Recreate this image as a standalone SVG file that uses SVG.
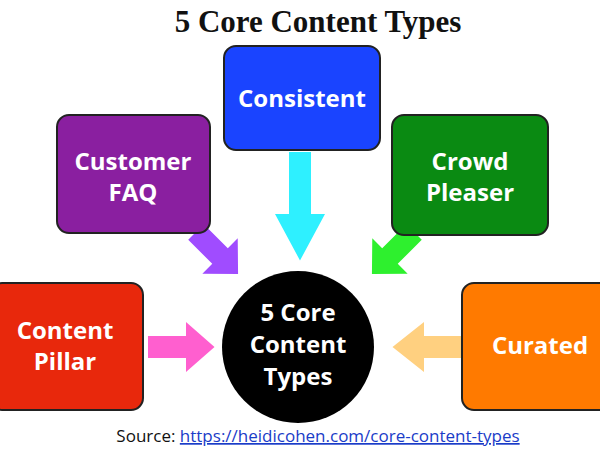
<svg xmlns="http://www.w3.org/2000/svg" width="600" height="450" viewBox="0 0 600 450">
<style>
.box{stroke:#222;stroke-width:2}
.lbl{font-family:"Open Sans","DejaVu Sans",sans-serif;font-weight:bold;font-size:24px;fill:#fff;text-anchor:middle}
</style>
<defs>
<path id="arr" d="M0,-11 L40,-11 L40,-25 L70,0 L40,25 L40,11 L0,11 Z"/>
</defs>
<rect width="600" height="450" fill="#fff"/>
<text x="318" y="32" font-family="Liberation Serif,serif" font-weight="bold" font-size="31" text-anchor="middle" fill="#111">5 Core Content Types</text>
<g id="connectors">
<use href="#arr" fill="#2ef0ff" transform="translate(300,152) rotate(90) scale(1.55,1)"/>
<use href="#arr" fill="#a04cff" transform="translate(196,232) rotate(45) scale(0.85,1)"/>
<use href="#arr" fill="#2ef02e" transform="translate(414,232) rotate(135) scale(0.85,1)"/>
<use href="#arr" fill="#ff5fcf" transform="translate(148,347) scale(0.95,1)"/>
<use href="#arr" fill="#ffd080" transform="translate(466,347) rotate(180) scale(1.05,1)"/>
</g>
<g id="consistent"><rect class="box" x="224" y="46" width="156" height="104" rx="12" fill="#1a44ff"/><text class="lbl" x="302" y="107">Consistent</text></g>
<g id="faq"><rect class="box" x="57" y="115" width="153" height="118" rx="12" fill="#8a1fa0"/><text class="lbl" x="133" y="170">Customer</text><text class="lbl" x="133" y="201">FAQ</text></g>
<g id="crowd"><rect class="box" x="392" y="115" width="156" height="120" rx="12" fill="#0a8a12"/><text class="lbl" x="470" y="170">Crowd</text><text class="lbl" x="470" y="201">Pleaser</text></g>
<g id="pillar"><rect class="box" x="-10" y="283" width="153" height="127" rx="12" fill="#e8280c"/><text class="lbl" x="65" y="339">Content</text><text class="lbl" x="65" y="370">Pillar</text></g>
<g id="curated"><rect class="box" x="462" y="283" width="150" height="127" rx="12" fill="#ff7a00"/><text class="lbl" x="540" y="354">Curated</text></g>
<g id="center"><circle cx="298" cy="347" r="76" fill="#000"/><text class="lbl" x="298" y="321">5 Core</text><text class="lbl" x="298" y="353">Content</text><text class="lbl" x="298" y="385">Types</text></g>
<text x="318" y="442" font-family="Open Sans,DejaVu Sans,sans-serif" font-size="17" text-anchor="middle" fill="#111">Source: <tspan fill="#1a3cc8" text-decoration="underline">https://heidicohen.com/core-content-types</tspan></text>
</svg>
